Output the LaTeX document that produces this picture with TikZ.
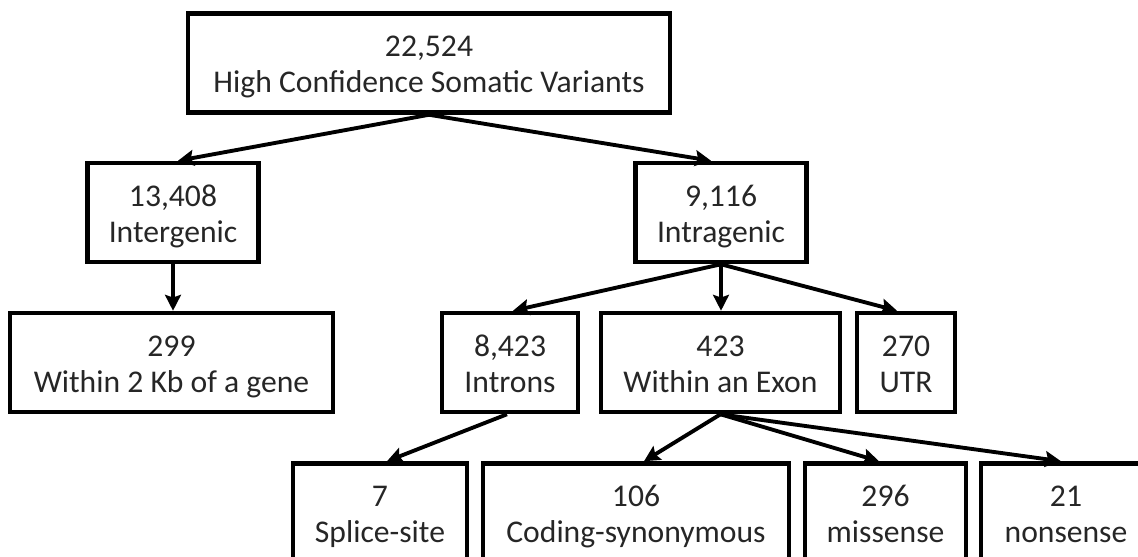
\documentclass[tikz,border=0pt]{standalone}
\usepackage{fontspec}
\setmainfont{Carlito}
\usepackage{tikz}
\usetikzlibrary{arrows.meta,positioning}

\begin{document}
\begin{tikzpicture}[x=0.02cm, y=-0.02cm,
    block/.style={rectangle, draw, line width=2.6pt, align=center, inner sep=0pt, minimum height=1.98cm, text=black!85, font=\fontsize{18}{20.5}\selectfont, text height=34pt, text depth=0pt},
    line/.style={draw, line width=2.2pt, -{Stealth[length=9pt, width=9pt, inset=1.5pt]}}]

    \clip (0,0) rectangle (1138,557);

    \node [block, minimum width=9.64cm] (total) at (429,63) {22,524\\High Confidence Somatic Variants};

    \node [block, minimum width=3.42cm] (inter) at (173,212.5) {13,408\\Intergenic};
    \node [block, minimum width=3.42cm] (intra) at (721,212.5) {9,116\\Intragenic};

    \node [block, minimum width=6.46cm] (near) at (171.5,362.5) {299\\Within 2 Kb of a gene};
    \node [block, minimum width=2.72cm] (intron) at (510,362.5) {8,423\\Introns};
    \node [block, minimum width=4.78cm] (exon) at (720.5,362.5) {423\\Within an Exon};
    \node [block, minimum width=1.96cm] (utr) at (906,362.5) {270\\UTR};

    \node [block, minimum width=3.48cm] (splice) at (380,513) {7\\Splice-site};
    \node [block, minimum width=6.12cm] (syn) at (636,513) {106\\Coding-synonymous};
    \node [block, minimum width=3.22cm] (mis) at (885.5,513) {296\\missense};
    \node [block, minimum width=3.4cm] (non) at (1066,513) {21\\nonsense};

    \path [line] (total.south) -- ([xshift=0.1cm]inter.north);
    \path [line] (total.south) -- ([xshift=-0.2cm]intra.north);
    \path [line] (inter.south) -- (inter.south |- near.north);
    \path [line] (intra.south) -- ([xshift=0.06cm]intron.north);
    \path [line] (intra.south) -- (intra.south |- exon.north);
    \path [line] (intra.south) -- ([xshift=-0.18cm]utr.north);
    \path [line] ([xshift=-0.06cm]intron.south) -- ([xshift=0.14cm]splice.north);
    \path [line] (exon.south) -- ([xshift=0.16cm]syn.north);
    \path [line] (exon.south) -- ([xshift=-0.13cm]mis.north);
    \path [line] (exon.south) -- ([xshift=-0.1cm]non.north);
\end{tikzpicture}
\end{document}
